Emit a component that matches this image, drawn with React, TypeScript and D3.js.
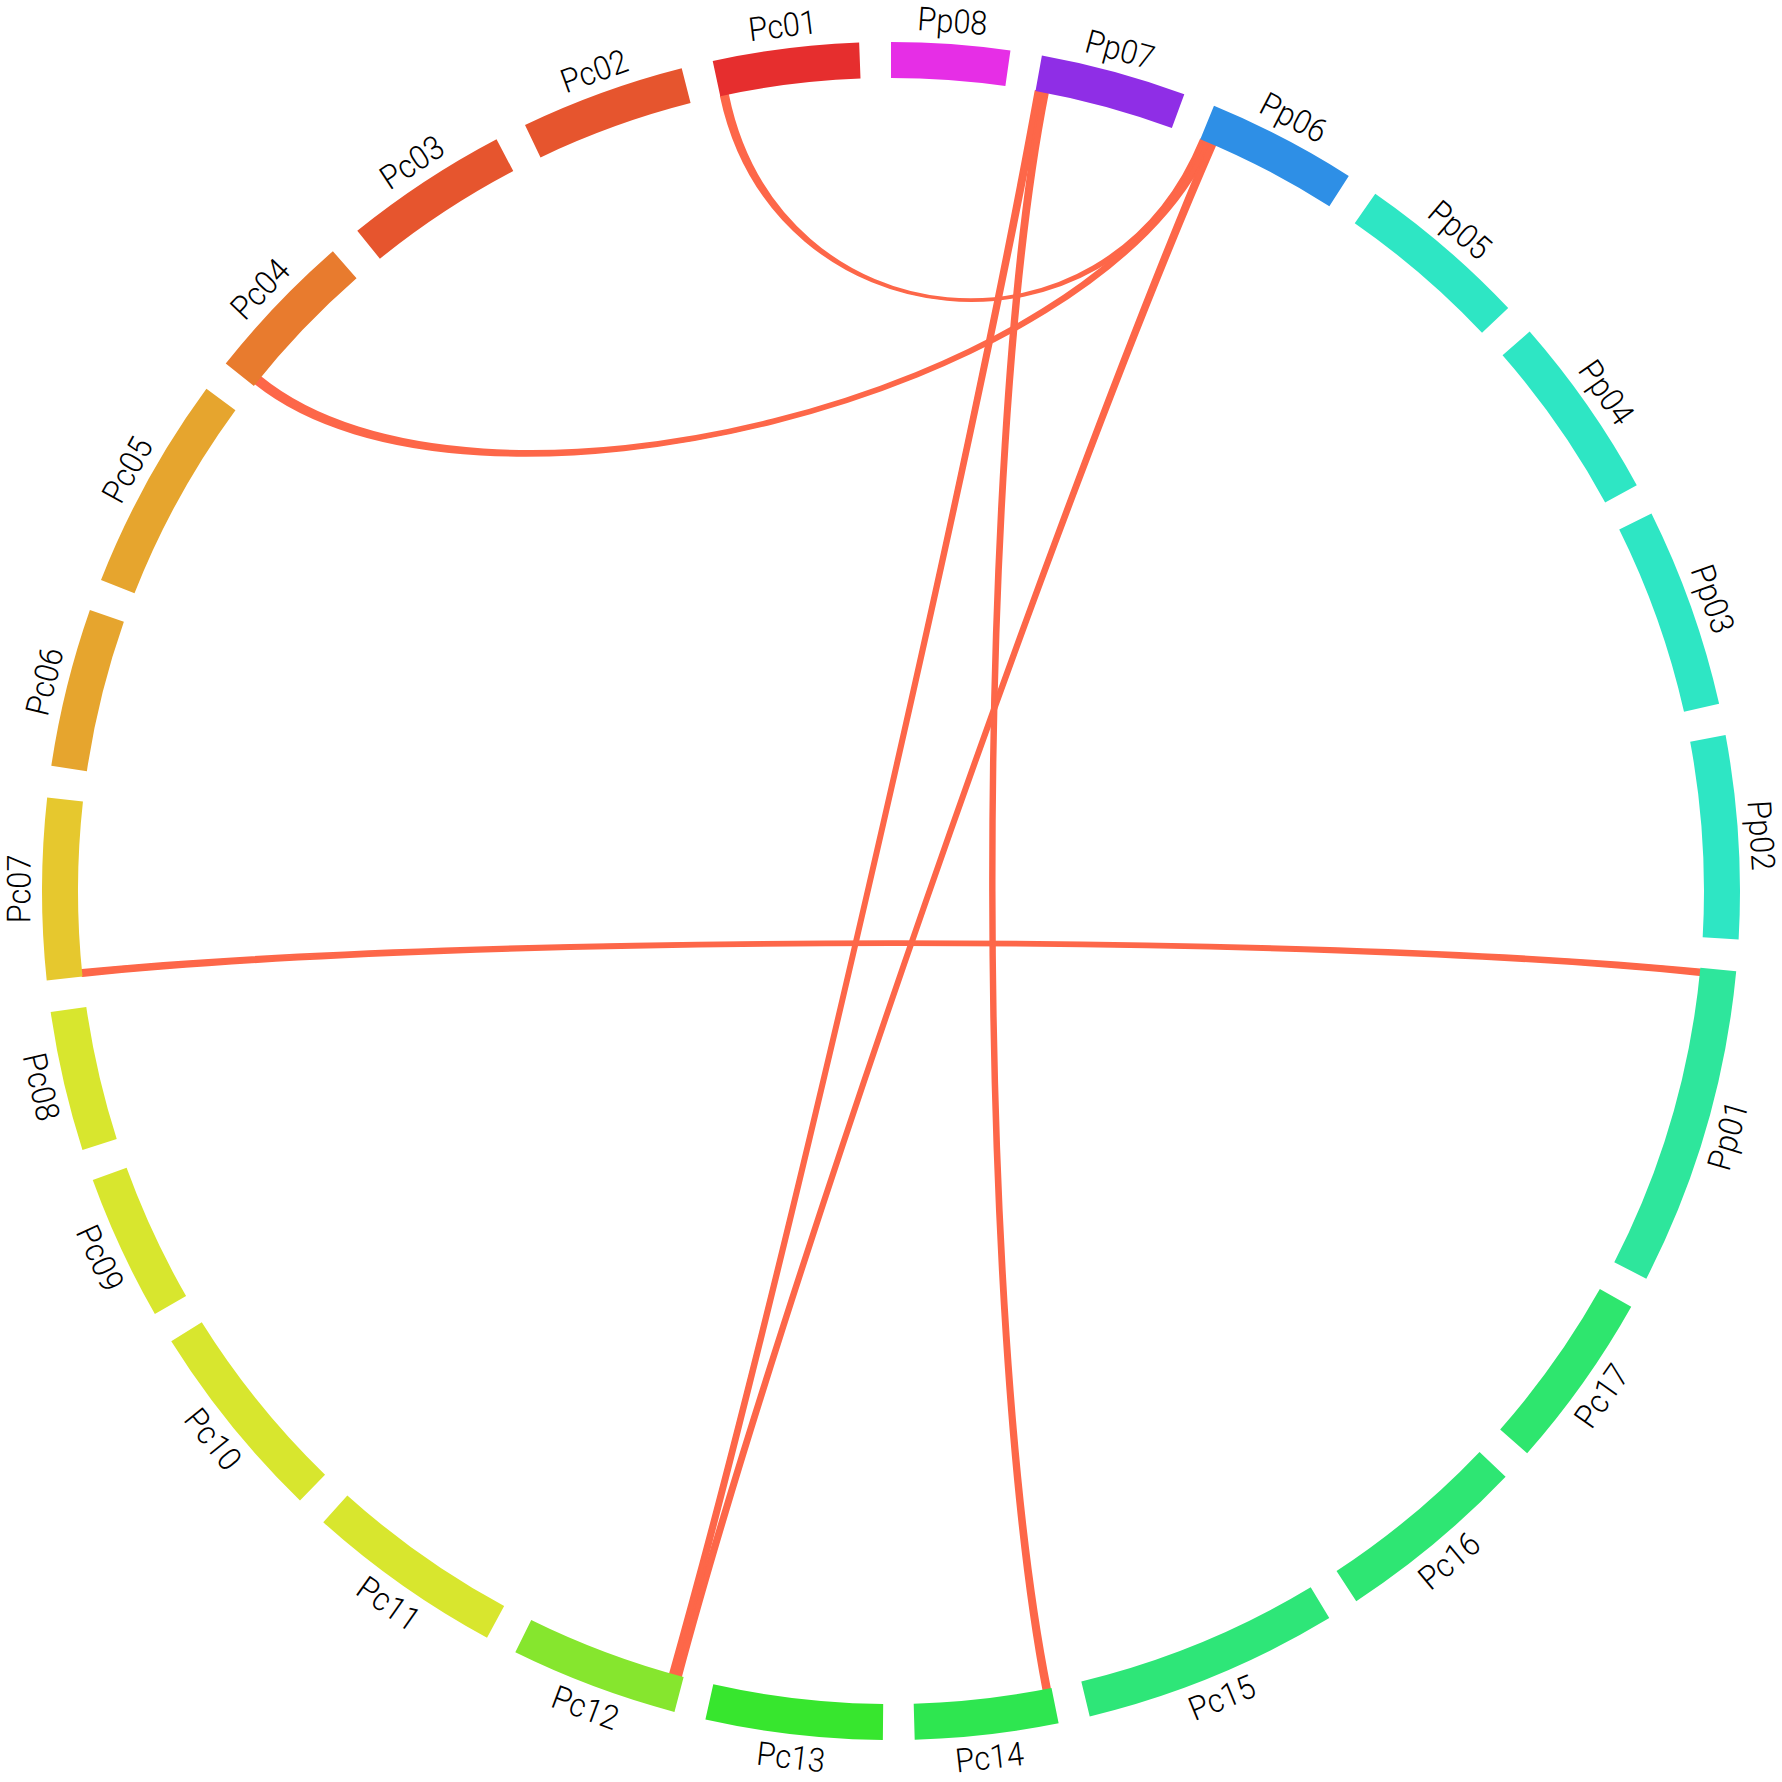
import React, { useEffect } from 'react'
import * as d3 from 'd3'

// chromosomes in clockwise order starting at 12 o'clock
const chromosomes = [
  'Pp08', 'Pp07', 'Pp06', 'Pp05', 'Pp04', 'Pp03', 'Pp02', 'Pp01',
  'Pc17', 'Pc16', 'Pc15', 'Pc14', 'Pc13', 'Pc12', 'Pc11', 'Pc10', 'Pc09',
  'Pc08', 'Pc07', 'Pc06', 'Pc05', 'Pc04', 'Pc03', 'Pc02', 'Pc01'
]

// lengths (Mb)
const lengths = [
  21.9, 27.0, 27.8, 32.1, 34.3, 37.0, 37.5, 58.9,
  32.9, 35.6, 47.5, 26.5, 32.7, 31.1, 36.7, 37.5, 27.0,
  25.9, 33.5, 29.4, 40.0, 28.4, 30.5, 30.5, 27.0
]

const colors = [
  '#e62ee6', '#8f2ee6', '#2e8fe6', '#2ee6c4', '#2ee6c4', '#2ee6c4', '#2ee6c4', '#2ee69c',
  '#2ee66e', '#2ee673', '#2ee678', '#2ee650', '#37e62e', '#86e62e', '#d8e62e', '#d8e62e', '#d8e62e',
  '#d8e62e', '#e6c82e', '#e6a52e', '#e6a52e', '#e87b2e', '#e6552e', '#e6552e', '#e62e2e'
]

// synteny links: [chrA, startA, endA, chrB, startB, endB] (Mb from the clockwise start)
const links: [string, number, number, string, number, number][] = [
  ['Pc01', 0.1, 1.5, 'Pp06', 0.1, 1.4],
  ['Pc04', 0.5, 2.1, 'Pp06', 0.9, 2.2],
  ['Pp06', 1.8, 3.1, 'Pc12', 0.5, 1.7],
  ['Pp07', 0.0, 1.3, 'Pc12', 1.5, 2.7],
  ['Pp07', 1.1, 2.4, 'Pc14', 0.3, 1.6],
  ['Pc07', 0.1, 1.3, 'Pp01', 0.3, 1.4]
]

const size = 1782
const cx = size / 2
const cy = size / 2
const outerR = 849
const innerR = 813
const labelR = 872
const gapDeg = 2.15
const linkColor = '#fd6749'

const rad = (deg: number) => (deg * Math.PI) / 180

export default function App() {
  useEffect(() => {
    document.body.style.margin = '0'
  }, [])

  const total = d3.sum(lengths)
  const degPerMb = (360 - chromosomes.length * gapDeg) / total

  const sectors = []
  let cursor = 0
  for (let i = 0; i < chromosomes.length; i++) {
    const span = lengths[i] * degPerMb
    const scale = d3.scaleLinear().domain([0, lengths[i]]).range([cursor, cursor + span])
    sectors.push({ name: chromosomes[i], start: cursor, end: cursor + span, color: colors[i], scale })
    cursor += span + gapDeg
  }
  const byName = new Map(sectors.map((s) => [s.name, s]))

  const arc = d3.arc<{ start: number; end: number }>()
    .innerRadius(innerR)
    .outerRadius(outerR)
    .startAngle((d) => rad(d.start))
    .endAngle((d) => rad(d.end))

  const pt = (deg: number, r: number): [number, number] => [
    cx + r * Math.sin(rad(deg)),
    cy - r * Math.cos(rad(deg))
  ]

  // cubic edge leaving each end radially; control depth shrinks for wide spans
  const curveTo = (p: d3.Path, from: number, to: number) => {
    let diff = ((to - from) % 360 + 360) % 360
    if (diff > 180) diff = 360 - diff
    const k = 0.695 - 0.2 * (diff / 180) ** 2
    const [c1x, c1y] = pt(from, innerR * k)
    const [c2x, c2y] = pt(to, innerR * k)
    const [ex, ey] = pt(to, innerR)
    p.bezierCurveTo(c1x, c1y, c2x, c2y, ex, ey)
  }

  const ribbon = (l: [string, number, number, string, number, number]) => {
    const sa = byName.get(l[0])!
    const sb = byName.get(l[3])!
    const a0 = sa.scale(l[1])
    const a1 = sa.scale(l[2])
    const b0 = sb.scale(l[4])
    const b1 = sb.scale(l[5])
    const p = d3.path()
    const [sx, sy] = pt(a0, innerR)
    p.moveTo(sx, sy)
    p.arc(cx, cy, innerR, rad(a0 - 90), rad(a1 - 90))
    curveTo(p, a1, b0)
    p.arc(cx, cy, innerR, rad(b0 - 90), rad(b1 - 90))
    curveTo(p, b1, a0)
    p.closePath()
    return p.toString()
  }

  return (
    <svg width={size} height={size} style={{ display: 'block', background: '#ffffff' }}>
      <rect width={size} height={size} fill="#ffffff" />
      <g>
        {links.map((l, i) => (
          <path key={i} d={ribbon(l)} fill={linkColor} stroke={linkColor} strokeWidth={1.8} strokeLinejoin="round" />
        ))}
      </g>
      <g transform={`translate(${cx},${cy})`}>
        {sectors.map((s) => (
          <path key={s.name} d={arc(s) ?? ''} fill={s.color} />
        ))}
      </g>
      <g fontFamily="Roboto, 'Noto Sans', sans-serif" fontSize={33} fontWeight={300} fill="#000000">
        {sectors.map((s) => {
          const mid = (s.start + s.end) / 2
          const [x, y] = pt(mid, labelR)
          const rot = mid > 90 && mid < 270 ? mid + 180 : mid
          return (
            <text
              key={s.name}
              transform={`translate(${x},${y}) rotate(${rot}) scale(0.93,1)`}
              textAnchor="middle"
              dominantBaseline="central"
            >
              {s.name}
            </text>
          )
        })}
      </g>
    </svg>
  )
}
